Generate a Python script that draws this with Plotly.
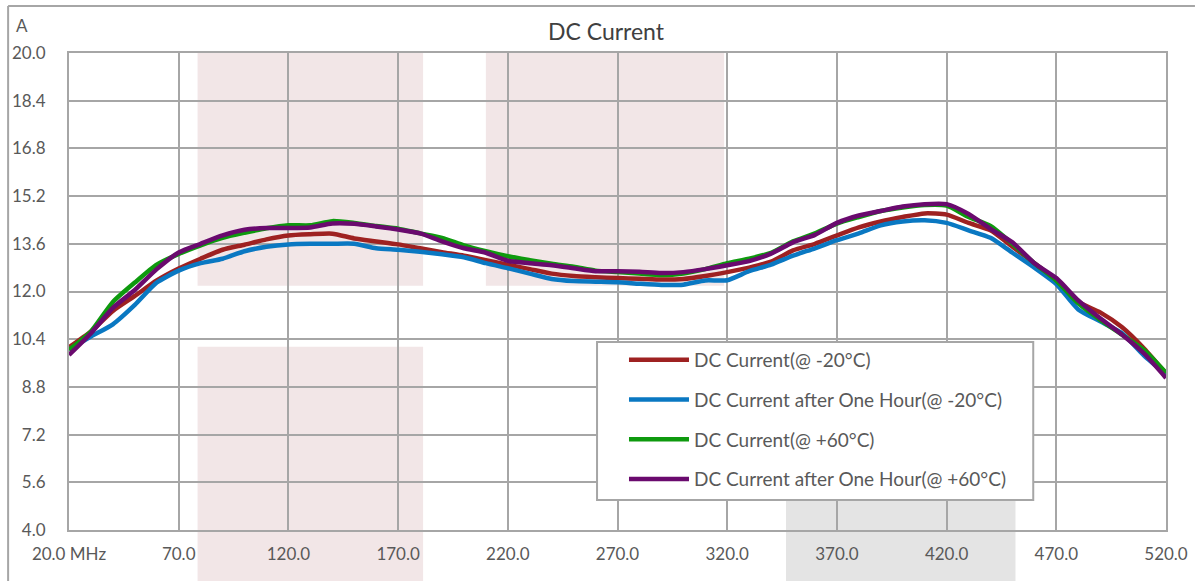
import plotly.graph_objects as go

freq = [20, 30, 40, 50, 60, 70, 80, 90, 100, 110, 120, 130, 140, 150, 160, 170, 180, 190, 200,
        210, 220, 230, 240, 250, 260, 270, 280, 290, 300, 310, 320, 330, 340, 350, 360, 370,
        380, 390, 400, 410, 420, 430, 440, 450, 460, 470, 480, 490, 500, 510, 520]

dc_m20 = [10.13, 10.66, 11.35, 11.85, 12.37, 12.77, 13.10, 13.40, 13.57, 13.75, 13.88, 13.92,
          13.94, 13.78, 13.68, 13.58, 13.45, 13.32, 13.20, 13.05, 12.90, 12.75, 12.60, 12.52,
          12.48, 12.45, 12.43, 12.40, 12.42, 12.52, 12.65, 12.80, 13.00, 13.38, 13.60, 13.88,
          14.15, 14.35, 14.50, 14.62, 14.58, 14.30, 14.05, 13.50, 12.95, 12.37, 11.65, 11.30,
          10.80, 10.09, 9.25]

dc_1h_m20 = [10.05, 10.49, 10.90, 11.55, 12.30, 12.70, 12.95, 13.10, 13.35, 13.50, 13.58, 13.60,
             13.60, 13.60, 13.45, 13.40, 13.33, 13.25, 13.15, 12.95, 12.78, 12.60, 12.42, 12.35,
             12.33, 12.31, 12.26, 12.22, 12.23, 12.37, 12.38, 12.68, 12.90, 13.20, 13.45, 13.72,
             13.95, 14.22, 14.35, 14.39, 14.30, 14.05, 13.80, 13.30, 12.80, 12.25, 11.40, 11.00,
             10.60, 9.85, 9.22]

dc_p60 = [10.04, 10.66, 11.65, 12.30, 12.90, 13.26, 13.55, 13.80, 13.97, 14.12, 14.22, 14.22,
          14.36, 14.30, 14.20, 14.11, 13.95, 13.80, 13.55, 13.35, 13.18, 13.05, 12.93, 12.83,
          12.70, 12.65, 12.60, 12.55, 12.60, 12.75, 12.95, 13.10, 13.30, 13.68, 13.95, 14.28,
          14.50, 14.70, 14.82, 14.90, 14.88, 14.50, 14.20, 13.60, 12.95, 12.37, 11.60, 11.05,
          10.55, 10.04, 9.27]

dc_1h_p60 = [9.87, 10.60, 11.45, 12.05, 12.75, 13.31, 13.60, 13.88, 14.07, 14.13, 14.13, 14.15,
             14.28, 14.27, 14.18, 14.08, 13.95, 13.68, 13.45, 13.30, 13.03, 12.95, 12.88, 12.78,
             12.68, 12.68, 12.66, 12.62, 12.65, 12.75, 12.88, 13.02, 13.27, 13.65, 13.90, 14.30,
             14.55, 14.70, 14.85, 14.93, 14.93, 14.60, 14.10, 13.65, 12.95, 12.45, 11.70, 11.10,
             10.55, 9.92, 9.10]

series_names = ["DC Current(@ -20°C)", "DC Current after One Hour(@ -20°C)",
                "DC Current(@ +60°C)", "DC Current after One Hour(@ +60°C)"]
series_values = [dc_m20, dc_1h_m20, dc_p60, dc_1h_p60]
series_colors = ["#9E2121", "#0A78C2", "#0E9A0E", "#6A0A6E"]

x_tickvals = [20, 70, 120, 170, 220, 270, 320, 370, 420, 470, 520]
x_ticktext = ["20.0 MHz", "70.0", "120.0", "170.0", "220.0", "270.0", "320.0", "370.0",
              "420.0", "470.0", "520.0"]
y_tickvals = [4.0, 5.6, 7.2, 8.8, 10.4, 12.0, 13.6, 15.2, 16.8, 18.4, 20.0]

# shaded bands (frequency spans, value spans)
pink_bands = [(78.6, 181.4, 12.19, 20.0), (210.0, 318.6, 12.19, 20.0)]
pink_low_band = (78.6, 181.4, 10.15)
gray_band = (346.8, 451.4, 5.0)

W, H = 1201, 581
L, R, T, B = 67, 35, 53, 51
plot_w = W - L - R
plot_h = H - T - B
y_min, y_max = 4.0, 20.0


def ypaper(v):
    return (v - y_min) / (y_max - y_min)


def px_x(px):
    return (px - L) / plot_w


def px_y(py):
    return (H - B - py) / plot_h


fig = go.Figure()
for name, vals, col in zip(series_names, series_values, series_colors):
    fig.add_trace(go.Scatter(x=freq, y=vals, name=name, mode="lines",
                             line=dict(color=col, width=4.5, shape="spline", smoothing=0.6),
                             legendgroup=name))

shapes = []
for x0, x1, y0, y1 in pink_bands:
    shapes.append(dict(type="rect", xref="x", yref="y", x0=x0, x1=x1, y0=y0, y1=y1,
                       fillcolor="#F2E6E7", line=dict(width=0), layer="below"))
bottom_paper = px_y(H + 5)
shapes.append(dict(type="rect", xref="x", yref="paper", x0=pink_low_band[0], x1=pink_low_band[1],
                   y0=bottom_paper, y1=ypaper(pink_low_band[2]),
                   fillcolor="#F2E6E7", line=dict(width=0), layer="below"))
shapes.append(dict(type="rect", xref="x", yref="paper", x0=gray_band[0], x1=gray_band[1],
                   y0=bottom_paper, y1=ypaper(gray_band[2]),
                   fillcolor="#E4E4E4", line=dict(width=0), layer="below"))

# outer chart frame (left and top edges)
shapes.append(dict(type="line", xref="paper", yref="paper", x0=px_x(6), x1=px_x(6),
                   y0=bottom_paper, y1=px_y(6), line=dict(color="#A6A6A6", width=2)))
shapes.append(dict(type="line", xref="paper", yref="paper", x0=px_x(6), x1=px_x(1195),
                   y0=px_y(6), y1=px_y(6), line=dict(color="#A6A6A6", width=2)))
# legend frame
shapes.append(dict(type="rect", xref="paper", yref="paper", x0=px_x(596), x1=px_x(1033),
                   y0=px_y(500), y1=px_y(342), fillcolor="white",
                   line=dict(color="#A6A6A6", width=2), layer="above"))

font_family = "Lato, 'Open Sans', sans-serif"
fig.update_layout(
    width=W, height=H,
    margin=dict(l=L, r=R, t=T, b=B, pad=0),
    paper_bgcolor="white",
    plot_bgcolor="rgba(0,0,0,0)",
    font=dict(family=font_family, size=17, color="#595959"),
    title=dict(text="DC Current", x=606 / W, xanchor="center", y=1 - 32 / H, yanchor="middle",
               font=dict(size=23, color="#404040", family=font_family)),
    shapes=shapes,
    showlegend=True,
    legend=dict(x=px_x(623), y=px_y(341), xanchor="left", yanchor="top",
                bgcolor="rgba(0,0,0,0)", borderwidth=0,
                font=dict(size=19, color="#595959"),
                traceorder="grouped", tracegroupgap=12, itemwidth=60),
    annotations=[dict(text="A", xref="paper", yref="paper", x=px_x(20),
                      y=px_y(25), showarrow=False, xanchor="center",
                      yanchor="middle", font=dict(size=17, color="#595959"))],
)
fig.update_xaxes(range=[20, 520], tickvals=x_tickvals, ticktext=x_ticktext,
                 showgrid=True, gridcolor="#A6A6A6", gridwidth=2,
                 showline=True, linecolor="#A6A6A6", linewidth=2, mirror=True,
                 ticks="", zeroline=False, ticklabelstandoff=8)
fig.update_yaxes(range=[y_min, y_max], tickvals=y_tickvals, tickformat=".1f",
                 showgrid=True, gridcolor="#A6A6A6", gridwidth=2,
                 showline=True, linecolor="#A6A6A6", linewidth=2, mirror=True,
                 ticks="", zeroline=False, ticklabelstandoff=18)

fig.write_html("out.html", config={"displayModeBar": False},
               post_script="document.body.style.margin='0px';")
